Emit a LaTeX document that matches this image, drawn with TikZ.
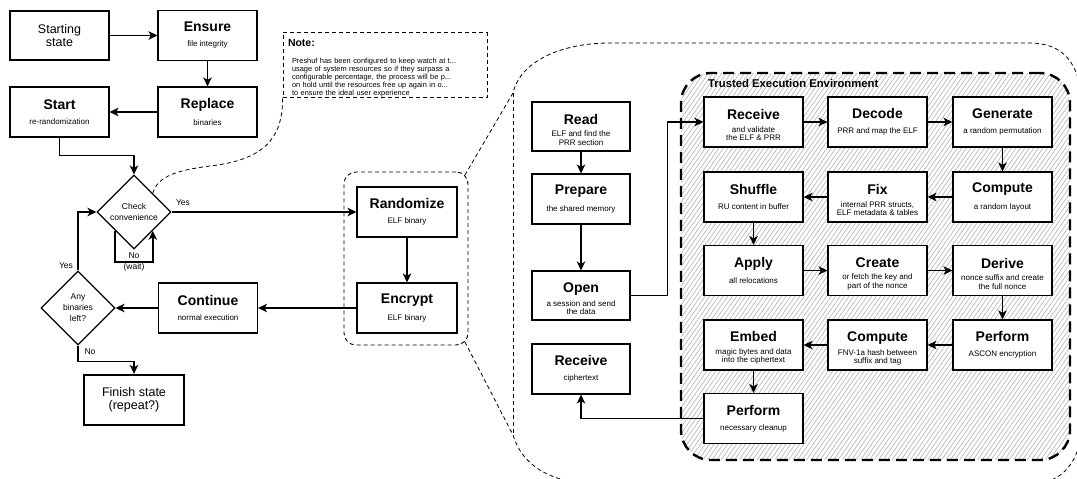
\documentclass[tikz,border=0pt]{standalone}
\usepackage{fontspec}
\setmainfont{Liberation Sans}
\usetikzlibrary{arrows.meta,shapes.geometric,calc}

% one-line subtitle
\newcommand{\bx}[2]{{\fontsize{14}{14}\selectfont\bfseries #1}\\[6.5pt]#2}
% two-line subtitle
\newcommand{\bxx}[2]{{\fontsize{14}{14}\selectfont\bfseries\rule{0pt}{16.6pt}#1}\\[4pt]#2}

\tikzset{
 box/.style={draw, line width=1.1pt, fill=white, minimum width=99pt, minimum height=50pt, inner sep=0pt, align=center, font=\fontsize{8}{8.5}\selectfont},
 term/.style={draw, line width=2.2pt, fill=white, minimum width=99pt, minimum height=49pt, inner sep=0pt, align=center, font=\fontsize{12.5}{13.5}\selectfont},
 dec/.style={draw, line width=1.1pt, fill=white, shape=diamond, minimum width=74pt, minimum height=74pt, inner sep=0pt, align=center, font=\fontsize{8.5}{11}\selectfont},
 flow/.style={line width=1.8pt, -{Stealth[length=9pt,width=8.5pt,inset=2.5pt]}},
 lbl/.style={font=\fontsize{8.5}{11}\selectfont, inner sep=1pt, align=center},
 thindash/.style={line width=0.8pt, dash pattern=on 4pt off 3pt},
 hatch/.style={line width=0.6pt, black!30},
}

\begin{document}
\begin{tikzpicture}[x=1pt,y=-1pt]
\useasboundingbox (0,0) rectangle (1077,479);

% big zoom callout outline
\coordinate (bigA) at (513,93);
\coordinate (bigB) at (513,435);
\node[draw, thindash, line width=0.9pt, rounded corners=12pt, minimum width=124pt, minimum height=173pt] (grp) at (406,258.5) {};
\begin{scope}
\clip (0,0) rectangle (1077,479);
\draw[thindash] ($(grp.north east)+(-3.5,3.5)$) -- (bigA) .. controls (520,62) and (560,43) .. (610,43) -- (1030,43) .. controls (1062,43) and (1082,62) .. (1082,110) -- (1082,420) .. controls (1082,462) and (1062,484) .. (1030,484) -- (600,484) .. controls (550,484) and (522,465) .. (bigB) -- ($(grp.south east)+(-3.5,-3.5)$);
\draw[thindash] (bigA) -- (bigB);
\end{scope}

% left flow
\node[term] (st) at (59.5,35.5) {Starting\\state};
\node[box] (ensure) at (207.5,35.5) {\bx{Ensure}{file integrity}};
\node[box] (replace) at (207.5,112) {\bx{Replace}{binaries}};
\node[box] (startrr) at (59.5,112) {\bx{Start}{re-randomization}};
\node[dec] (check) at (134,212) {Check\\convenience};
\node[dec] (any) at (78,308) {Any\\binaries\\left?};
\node[box] (cont) at (208,308) {\bx{Continue}{normal execution}};
\node[term, minimum width=100pt, minimum height=50pt] (finish) at (134,400) {Finish state\\(repeat?)};
\node[box, minimum width=100pt] (rand) at (407,212) {\bx{Randomize}{ELF binary}};
\node[box, minimum width=100pt] (enc) at (407,308) {\bx{Encrypt}{ELF binary}};

% note
\node[draw, line width=0.9pt, dash pattern=on 4pt off 3pt, text width=194pt, inner xsep=5pt, inner ysep=0pt, minimum height=64pt, align=left, font=\fontsize{7.4}{8.1}\selectfont] (note) at (385,65) {{\fontsize{10.5}{12}\selectfont\bfseries\rule{0pt}{14pt}Note:}\\[9pt]
\hspace*{4pt}Preshuf has been configured to keep watch at t...\\
\hspace*{4pt}usage of system resources so if they surpass a\\
\hspace*{4pt}configurable percentage, the process will be p...\\
\hspace*{4pt}on hold until the resources free up again in o...\\
\hspace*{4pt}to ensure the ideal user experience};
\draw[thindash] ($(check.north)!0.5!(check.east)$) .. controls (158,175) and (180,170) .. (210,166) .. controls (262,160) and (283,140) .. (note.south west);

\draw[flow] (st.east) -- (ensure.west);
\draw[flow] (ensure.south) -- (replace.north);
\draw[flow] (replace.west) -- (startrr.east);
\draw[flow] (startrr.south) -- ++(0,18) -| (check.north);
\draw[flow] ($(check.west)!0.5!(check.south)$) -- ++(0,31) -| ($(check.east)!0.5!(check.south)$);
\node[lbl] (nowait) at (134,262) {No\\(wait)};
\draw[flow] (check.east) -- (rand.west);
\node[lbl] (yes1) at (183,203) {Yes};
\draw[flow] (rand.south) -- (enc.north);
\draw[flow] (enc.west) -- (cont.east);
\draw[flow] (cont.west) -- (any.east);
\draw[flow] (any.north) |- (check.west);
\node[lbl] (yes2) at (66,266) {Yes};
\draw[flow] (any.south) -- ++(0,16) -| (finish.north);
\node[lbl] (no2) at (90,352) {No};

% TEE
\begin{scope}
\clip[rounded corners=30pt] (681,73) rectangle (1070,460);
\foreach \x in {406,410.5,...,1075} {\draw[hatch] (\x,460) -- ++(271,-387);}
\end{scope}
\node[draw, line width=2.4pt, dash pattern=on 11pt off 6pt, rounded corners=30pt, minimum width=389pt, minimum height=387pt] (tee) at (875.5,266.5) {};
\node[anchor=west, inner sep=0pt, font=\fontsize{11.3}{13}\selectfont\bfseries] (teet) at (708,83) {Trusted Execution Environment};

% host column
\node[box, minimum width=98pt, minimum height=49pt] (read) at (581,126.5) {\bxx{Read}{ELF and find the\\PRR section}};
\node[box, minimum width=98pt] (prep) at (581,199) {\bx{Prepare}{the shared memory}};
\node[box, minimum width=98pt, minimum height=49pt] (open) at (581,295.5) {\bxx{Open}{a session and send\\the data}};
\node[box, minimum width=98pt] (rcvc) at (581,369) {\bx{Receive}{ciphertext}};

% TEE boxes
\node[box] (tRecv) at (753.5,122) {\bxx{Receive}{and validate\\the ELF \& PRR}};
\node[box] (tDec) at (877.5,122) {\bx{Decode}{PRR and map the ELF}};
\node[box] (tGen) at (1002.5,122) {\bx{Generate}{a random permutation}};
\node[box] (tShuf) at (753.5,197) {\bx{Shuffle}{RU content in buffer}};
\node[box] (tFix) at (877.5,197) {\bxx{Fix}{internal PRR structs,\\ELF metadata \& tables}};
\node[box] (tComp) at (1002.5,197) {\bx{Compute}{a random layout}};
\node[box] (tApply) at (753.5,270.5) {\bx{Apply}{all relocations}};
\node[box] (tCreate) at (877.5,270.5) {\bxx{Create}{or fetch the key and\\part of the nonce}};
\node[box] (tDerive) at (1002.5,270.5) {\bxx{Derive}{nonce suffix and create\\the full nonce}};
\node[box] (tEmbed) at (753.5,345) {\bxx{Embed}{magic bytes and data\\into the ciphertext}};
\node[box] (tHash) at (877.5,345) {\bxx{Compute}{FNV-1a hash between\\suffix and tag}};
\node[box] (tAscon) at (1002.5,345) {\bx{Perform}{ASCON encryption}};
\node[box] (tClean) at (753.5,418.5) {\bx{Perform}{necessary cleanup}};

\draw[flow] (read.south) -- (prep.north);
\draw[flow] (prep.south) -- (open.north);
\draw[flow] (open.east) -- ++(37,0) |- (tRecv.west);
\draw[flow] (tRecv.east) -- (tDec.west);
\draw[flow] (tDec.east) -- (tGen.west);
\draw[flow] (tGen.south) -- (tComp.north);
\draw[flow] (tComp.west) -- (tFix.east);
\draw[flow] (tFix.west) -- (tShuf.east);
\draw[flow] (tShuf.south) -- (tApply.north);
\draw[flow] (tApply.east) -- (tCreate.west);
\draw[flow] (tCreate.east) -- (tDerive.west);
\draw[flow] (tDerive.south) -- (tAscon.north);
\draw[flow] (tAscon.west) -- (tHash.east);
\draw[flow] (tHash.west) -- (tEmbed.east);
\draw[flow] (tEmbed.south) -- (tClean.north);
\draw[flow] (tClean.west) -| (rcvc.south);
\end{tikzpicture}
\end{document}
